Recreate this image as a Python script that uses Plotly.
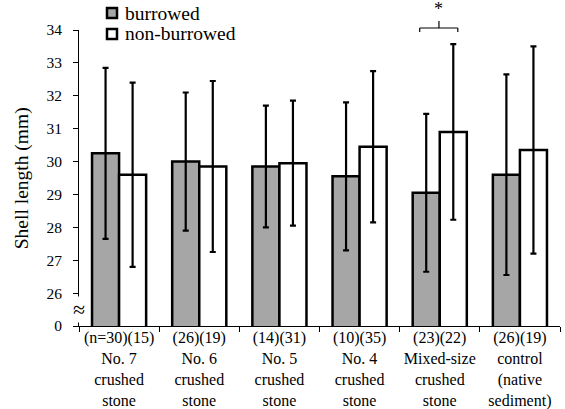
import plotly.graph_objects as go

categories = ["No. 7<br>crushed<br>stone", "No. 6<br>crushed<br>stone", "No. 5<br>crushed<br>stone",
              "No. 4<br>crushed<br>stone", "Mixed-size<br>crushed<br>stone", "control<br>(native<br>sediment)"]
n_burrowed = ["n=30", "26", "14", "10", "23", "26"]
n_nonburrowed = ["15", "19", "31", "35", "22", "19"]
burrowed = [30.25, 30.0, 29.85, 29.55, 29.05, 29.6]
burrowed_sd = [2.6, 2.1, 1.85, 2.25, 2.4, 3.05]
nonburrowed = [29.6, 29.85, 29.95, 30.45, 30.9, 30.35]
nonburrowed_sd = [2.8, 2.6, 1.9, 2.3, 2.67, 3.15]
ytick_vals = [25, 26, 27, 28, 29, 30, 31, 32, 33, 34]
ytick_text = ["0", "26", "27", "28", "29", "30", "31", "32", "33", "34"]

labels = [f"({a})({b})<br>{c}" for a, b, c in zip(n_burrowed, n_nonburrowed, categories)]

FONT = "Liberation Serif"
GRAY = "#a6a6a6"

fig = go.Figure()
fig.add_trace(go.Bar(
    x=labels, y=burrowed, name="burrowed",
    marker=dict(color=GRAY, line=dict(color="black", width=2.5)),
    error_y=dict(type="data", array=burrowed_sd, color="black", thickness=2.2, width=3),
    showlegend=False,
))
fig.add_trace(go.Bar(
    x=labels, y=nonburrowed, name="non-burrowed",
    marker=dict(color="white", line=dict(color="black", width=2.5)),
    error_y=dict(type="data", array=nonburrowed_sd, color="black", thickness=2.2, width=3),
    showlegend=False,
))

shapes = []
# legend swatches
shapes.append(dict(type="rect", xref="paper", yref="paper", x0=0.0582, x1=0.079, y0=1.0405, y1=1.0743,
                   fillcolor=GRAY, line=dict(color="black", width=2.5)))
shapes.append(dict(type="rect", xref="paper", yref="paper", x0=0.0582, x1=0.079, y0=0.9696, y1=1.0034,
                   fillcolor="white", line=dict(color="black", width=2.5)))
# significance bracket
bl = dict(color="black", width=1.2)
shapes.append(dict(type="line", xref="x", yref="paper", x0=3.75, x1=4.225, y0=1.0068, y1=1.0068, line=bl))
shapes.append(dict(type="line", xref="x", yref="paper", x0=3.75, x1=3.75, y0=0.9932, y1=1.0068, line=bl))
shapes.append(dict(type="line", xref="x", yref="paper", x0=4.225, x1=4.225, y0=0.9932, y1=1.0068, line=bl))
shapes.append(dict(type="line", xref="x", yref="paper", x0=3.99, x1=3.99, y0=1.0068, y1=1.0304, line=bl))

annotations = [
    dict(text="burrowed", xref="paper", yref="paper", x=0.0915, y=1.0574, xanchor="left", yanchor="middle",
         showarrow=False, font=dict(family=FONT, size=19.5, color="black")),
    dict(text="non-burrowed", xref="paper", yref="paper", x=0.0915, y=0.9865, xanchor="left", yanchor="middle",
         showarrow=False, font=dict(family=FONT, size=19.5, color="black")),
    dict(text="*", xref="x", yref="paper", x=3.99, y=1.072, xanchor="center", yanchor="middle",
         showarrow=False, font=dict(family=FONT, size=18, color="black")),
    dict(text="≈", xref="paper", yref="y", x=0, y=25.5, xanchor="center", yanchor="middle",
         showarrow=False, bgcolor="white", borderpad=0, font=dict(family=FONT, size=22, color="black")),
    dict(text="Shell length (mm)", xref="paper", yref="paper", x=-0.118, y=0.5, xanchor="center", yanchor="middle",
         textangle=-90, showarrow=False, font=dict(family=FONT, size=19.5, color="black")),
]

fig.update_layout(
    width=565, height=409,
    margin=dict(l=79, r=5, t=30, b=83, autoexpand=False),
    paper_bgcolor="white", plot_bgcolor="white",
    barmode="group", bargap=0.325, bargroupgap=0,
    font=dict(family=FONT, color="black"),
    shapes=shapes, annotations=annotations,
    xaxis=dict(type="category", showline=True, linecolor="black", linewidth=1, automargin=False,
               ticks="outside", tickson="boundaries", ticklen=5, tickcolor="black", tickangle=0,
               ticklabelstandoff=-3,
               tickfont=dict(family=FONT, size=16, color="black"), showgrid=False),
    yaxis=dict(range=[25, 34], tickvals=ytick_vals, ticktext=ytick_text, automargin=False,
               showline=True, linecolor="black", linewidth=1, ticks="outside", ticklen=5,
               tickcolor="black", ticklabelstandoff=8, showgrid=False, zeroline=False,
               tickfont=dict(family=FONT, size=15.5, color="black")),
)

fig.write_html("out.html", config={"displayModeBar": False},
               post_script="document.body.style.margin='0';")
